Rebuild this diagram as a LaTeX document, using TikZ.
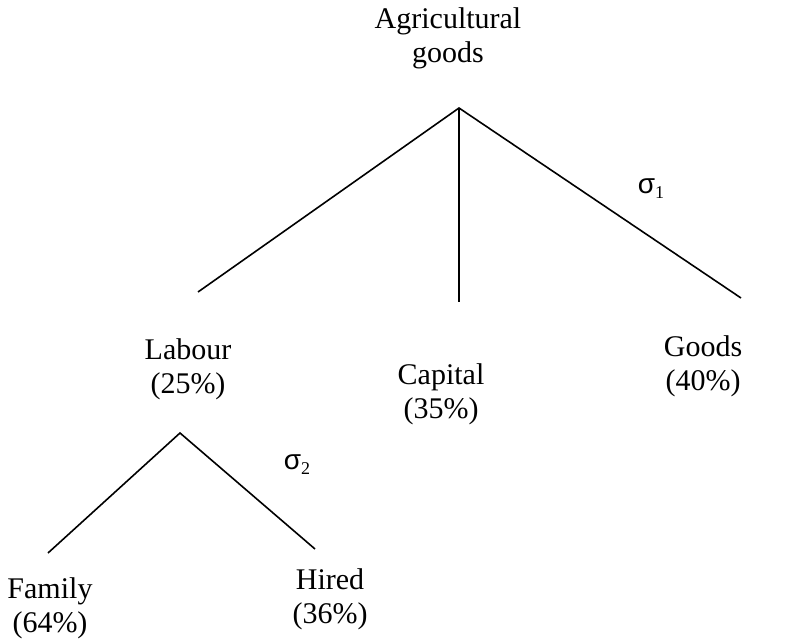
\documentclass[tikz,border=0pt]{standalone}
\usepackage{fontspec}
\setmainfont{Liberation Serif}
\newfontfamily\sigfont{Liberation Sans}
\newcommand{\sigsub}[1]{{\sigfont σ}{\fontsize{18}{18}\selectfont\raisebox{-5pt}{#1}}}
\begin{document}
\begin{tikzpicture}[x=1pt,y=-1pt,
  lbl/.style={align=center,inner sep=0pt,font=\fontsize{30}{34}\selectfont},
  sig/.style={inner sep=0pt,font=\fontsize{28}{30}\selectfont},
  br/.style={line width=1.6pt}]
\useasboundingbox (0,0) rectangle (794,639);
\node[lbl] (agri) at (448,38) {Agricultural\\goods};
\coordinate (top) at (459,108);
\coordinate (tl) at (198,292);
\coordinate (tc) at (459,302);
\coordinate (tr) at (741,298);
\draw[br] (tl) -- (top) -- (tr);
\draw[br] (top) -- (tc);
\node[sig] (s1) at (651,189) {\sigsub{1}};
\node[lbl] (lab) at (188,369) {Labour\\(25\%)};
\node[lbl] (cap) at (441,394) {Capital\\(35\%)};
\node[lbl] (goo) at (703,366) {Goods\\(40\%)};
\coordinate (ltop) at (180,433);
\coordinate (ll) at (48,553);
\coordinate (lr) at (315,549);
\draw[br] (ll) -- (ltop) -- (lr);
\node[sig] (s2) at (297,465) {\sigsub{2}};
\node[lbl] (fam) at (50,608) {Family\\(64\%)};
\node[lbl] (hir) at (330,599) {Hired\\(36\%)};
\end{tikzpicture}
\end{document}
